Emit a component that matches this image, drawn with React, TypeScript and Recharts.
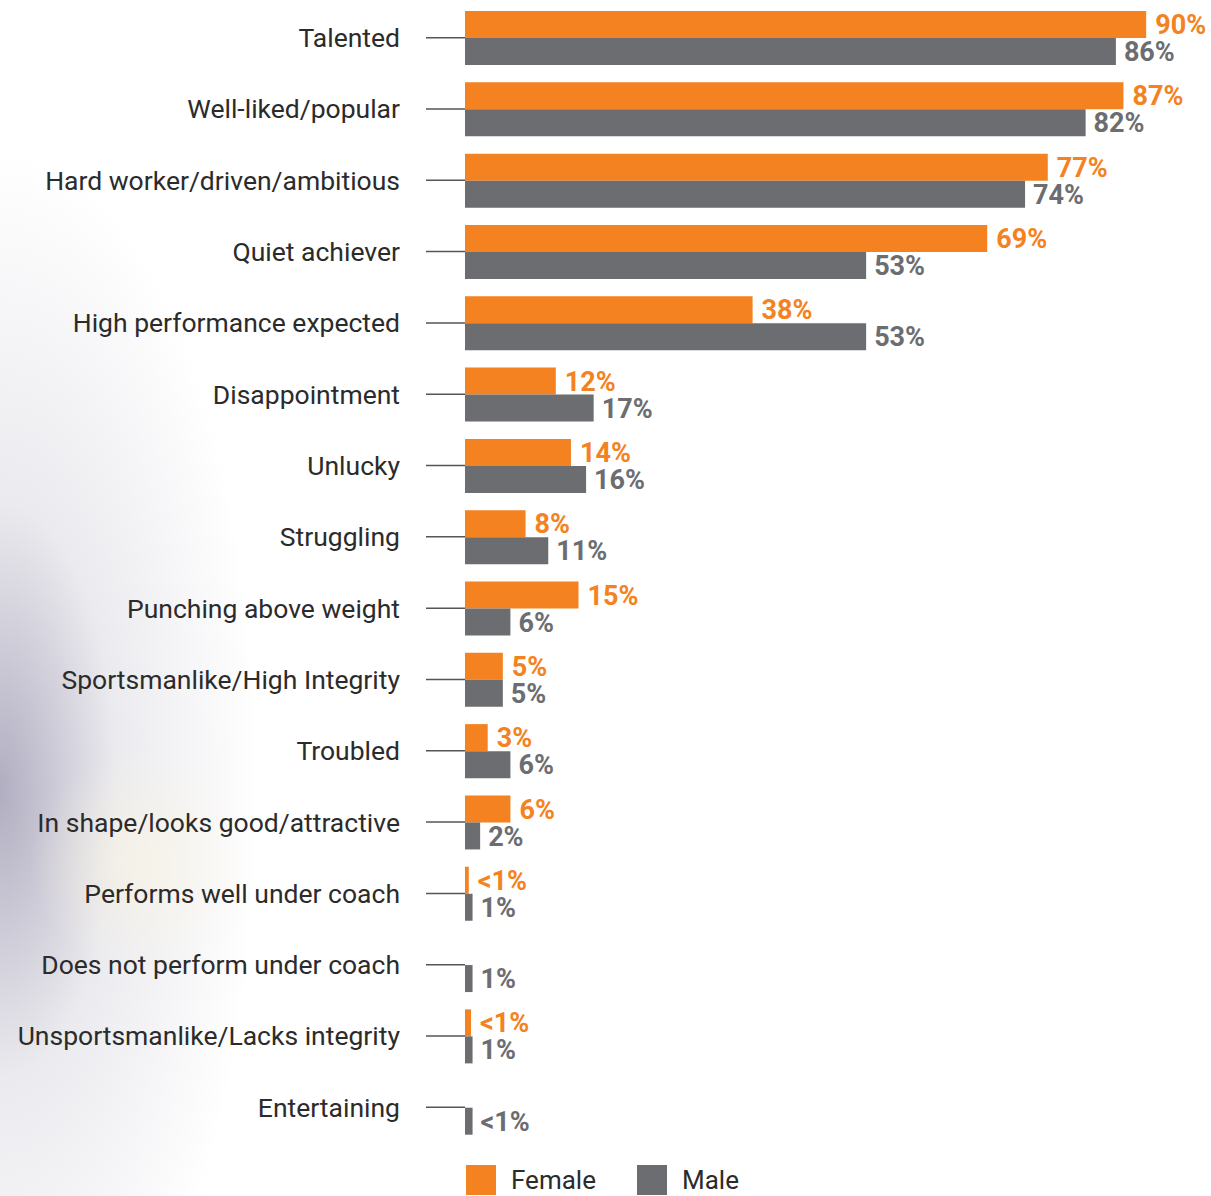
import { BarChart, Bar, XAxis, YAxis, LabelList } from 'recharts';

const categories = [
  'Talented',
  'Well-liked/popular',
  'Hard worker/driven/ambitious',
  'Quiet achiever',
  'High performance expected',
  'Disappointment',
  'Unlucky',
  'Struggling',
  'Punching above weight',
  'Sportsmanlike/High Integrity',
  'Troubled',
  'In shape/looks good/attractive',
  'Performs well under coach',
  'Does not perform under coach',
  'Unsportsmanlike/Lacks integrity',
  'Entertaining',
];

const femaleValues = [90, 87, 77, 69, 38, 12, 14, 8, 15, 5, 3, 6, 0.5, null, 0.8, null];
const maleValues = [86, 82, 74, 53, 53, 17, 16, 11, 6, 5, 6, 2, 1, 1, 1, 1];

const femaleLabels = ['90%', '87%', '77%', '69%', '38%', '12%', '14%', '8%', '15%', '5%', '3%', '6%', '<1%', '', '<1%', ''];
const maleLabels = ['86%', '82%', '74%', '53%', '53%', '17%', '16%', '11%', '6%', '5%', '6%', '2%', '1%', '1%', '1%', '<1%'];

const ORANGE = '#F48220';
const GRAY = '#6C6D70';

const data = categories.map((name, i) => ({
  name,
  female: femaleValues[i],
  male: maleValues[i],
  femaleLabel: femaleLabels[i],
  maleLabel: maleLabels[i],
}));

export default function App() {
  return (
    <div
      style={{
        position: 'absolute',
        left: 0,
        top: 0,
        width: 1211,
        height: 1196,
        overflow: 'hidden',
        background:
          'radial-gradient(circle at 140px 860px, rgba(250,245,225,0.6) 0px, rgba(255,255,255,0) 110px), radial-gradient(ellipse 260px 640px at 0px 790px, rgba(150,146,172,0.75) 0%, rgba(205,203,214,0.4) 45%, rgba(255,255,255,0) 100%), #ffffff',
        fontFamily: 'Roboto, sans-serif',
      }}
    >
      <BarChart
        width={1211}
        height={1146}
        data={data}
        layout="vertical"
        margin={{ top: 2, right: 27, bottom: 3, left: 0 }}
        barSize={27}
        barGap={0}
      >
        <XAxis type="number" domain={[0, 95]} hide />
        <YAxis
          type="category"
          dataKey="name"
          width={465}
          axisLine={false}
          tickSize={39}
          tickMargin={26}
          tickLine={{ stroke: '#555', strokeWidth: 1.5 }}
          tick={{ fill: '#2b2b2b', fontSize: 26.5, fontFamily: 'Roboto, sans-serif' }}
          interval={0}
        />
        <Bar dataKey="female" fill={ORANGE} isAnimationActive={false}>
          <LabelList
            dataKey="femaleLabel"
            position="right"
            offset={9}
            fill={ORANGE}
            style={{ fontSize: 27, fontWeight: 700, fontFamily: 'Roboto, sans-serif' }}
          />
        </Bar>
        <Bar dataKey="male" fill={GRAY} isAnimationActive={false}>
          <LabelList
            dataKey="maleLabel"
            position="right"
            offset={8}
            fill={GRAY}
            style={{ fontSize: 27, fontWeight: 700, fontFamily: 'Roboto, sans-serif' }}
          />
        </Bar>
      </BarChart>
      {/* Legend */}
      <div style={{ position: 'absolute', left: 466, top: 1165, display: 'flex', alignItems: 'center' }}>
        <div style={{ width: 30, height: 30, background: ORANGE }} />
        <span style={{ marginLeft: 15, fontSize: 26, color: '#2b2b2b', width: 126 }}>Female</span>
        <div style={{ width: 30, height: 30, background: GRAY }} />
        <span style={{ marginLeft: 15, fontSize: 26, color: '#2b2b2b' }}>Male</span>
      </div>
    </div>
  );
}
